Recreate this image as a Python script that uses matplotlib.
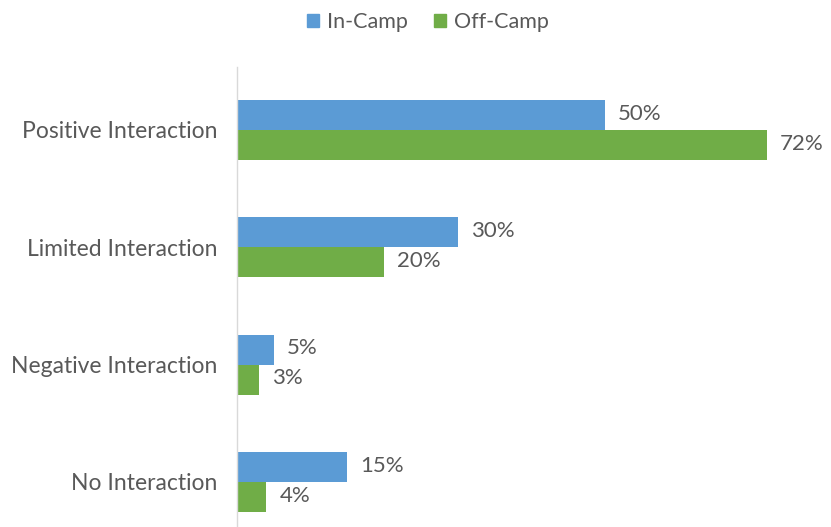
import matplotlib
matplotlib.use("Agg")
import matplotlib.pyplot as plt
from matplotlib.patches import Patch

categories = ["Positive Interaction", "Limited Interaction", "Negative Interaction", "No Interaction"]
in_camp = [50, 30, 5, 15]
off_camp = [72, 20, 3, 4]
series_names = ["In-Camp", "Off-Camp"]

BLUE = "#5B9BD5"
GREEN = "#70AD47"
TXT = "#595959"
FONT = "Lato"
FS = 16.5
FS_VAL = 16
FS_LEG = 15.5

W, H = 831, 527
fig = plt.figure(figsize=(W / 100, H / 100), dpi=100)
left, right, top, bottom = 237, 831, 67, 527
ax = fig.add_axes([left / W, 1 - bottom / H, (right - left) / W, (bottom - top) / H])

px_per_pct = 7.36
ax.set_xlim(0, (right - left) / px_per_pct)
ax.set_ylim(3.384, -0.537)

bh = 0.255
idx = list(range(len(categories)))
ax.barh([i - bh / 2 for i in idx], in_camp, height=bh, color=BLUE)
ax.barh([i + bh / 2 for i in idx], off_camp, height=bh, color=GREEN)

for i in idx:
    ax.annotate(f"{in_camp[i]}%", (in_camp[i], i - bh / 2), xytext=(9.5, 1), textcoords="offset points",
                va="center", ha="left", fontsize=FS_VAL, color=TXT, family=FONT)
    ax.annotate(f"{off_camp[i]}%", (off_camp[i], i + bh / 2), xytext=(9.5, 1), textcoords="offset points",
                va="center", ha="left", fontsize=FS_VAL, color=TXT, family=FONT)

ax.set_yticks(idx)
ax.set_yticklabels(categories, fontsize=FS, color=TXT, family=FONT)
ax.tick_params(axis="y", length=0, pad=14)
ax.set_xticks([])
for s in ["top", "right", "bottom"]:
    ax.spines[s].set_visible(False)
ax.spines["left"].set_color("#D9D9D9")
ax.spines["left"].set_linewidth(1)

handles = [Patch(color=BLUE), Patch(color=GREEN)]
fig.legend(handles, series_names, loc="center", bbox_to_anchor=(428 / W, 1 - 22 / H), ncol=2,
           frameon=False, prop={"family": FONT, "size": FS_LEG}, labelcolor=TXT,
           handlelength=0.55, handleheight=0.55, handletextpad=0.4, columnspacing=1.2)

fig.savefig("out.png", dpi=100, facecolor="white")
